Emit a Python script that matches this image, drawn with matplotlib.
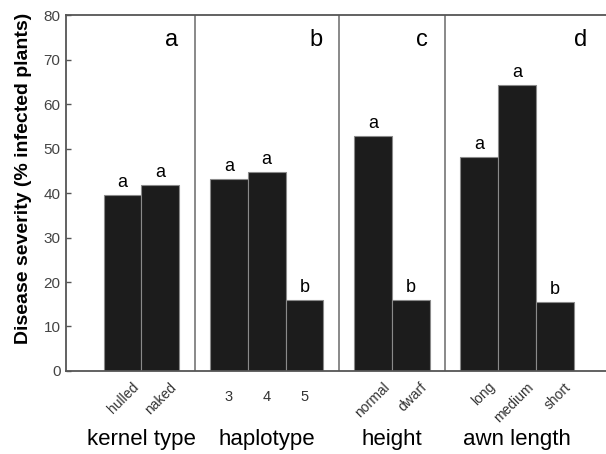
import matplotlib.pyplot as plt
from matplotlib.transforms import ScaledTranslation
import numpy as np

plt.rcParams['font.family'] = ['Liberation Sans', 'DejaVu Sans']

groups = ["kernel type", "haplotype", "height", "awn length"]
panel_letters = ["a", "b", "c", "d"]
categories = [["hulled", "naked"], ["3", "4", "5"], ["normal", "dwarf"],
              ["long", "medium", "short"]]
severity = [[39.7, 41.9], [43.3, 44.7, 15.9], [52.9, 16.0], [48.1, 64.4, 15.5]]
letters = [["a", "a"], ["a", "a", "b"], ["a", "b"], ["a", "a", "b"]]

fig = plt.figure(figsize=(6.06, 4.54), dpi=100)
ax = fig.add_axes([0.109, 0.183, 0.891, 0.783])
trans = ax.get_xaxis_transform()

gap = 0.82
x0 = 1.5
centers = []
for gi, vals in enumerate(severity):
    xs = x0 + np.arange(len(vals))
    ax.bar(xs, vals, width=1.0, color="#1c1c1c", edgecolor="#8a8a8a", linewidth=0.8)
    for x, v, l in zip(xs, vals, letters[gi]):
        ax.text(x, v + 0.9, l, ha="center", va="bottom", fontsize=13)
    # category labels under each bar
    for x, c in zip(xs, categories[gi]):
        if c.isdigit():
            off = ScaledTranslation(0, -19 / 72, fig.dpi_scale_trans)
            ax.text(x, 0, c, transform=trans + off, ha="center", va="center",
                    fontsize=10.5, color="#333333")
        else:
            off = ScaledTranslation(6.5 / 72, -6.5 / 72, fig.dpi_scale_trans)
            ax.text(x, 0, c, transform=trans + off, ha="right", va="top",
                    rotation=45, rotation_mode="anchor", fontsize=10, color="#333333")
    centers.append(xs.mean())
    end = xs[-1] + 0.5
    if gi < len(severity) - 1:
        ax.axvline(end + gap / 2, color="#808080", linewidth=1.3)
        lx = end + gap / 2 - 0.6
    else:
        lx = end + 0.18
    ax.text(lx, 74.5, panel_letters[gi], ha="center", va="center", fontsize=17)
    x0 = end + gap + 0.5

for c, g in zip(centers, groups):
    ax.text(c, -0.194, g, transform=trans, ha="center", va="center", fontsize=16)

ax.set_xticks([])
ax.set_xlim(0, 14.32)
ax.set_ylim(0, 80)
ax.set_yticks(np.arange(0, 81, 10))
ax.tick_params(axis="y", direction="in", length=3.5, width=1, color="#555555",
               labelsize=11, labelcolor="#444444", pad=4)
ax.set_ylabel("Disease severity (% infected plants)", fontsize=14, fontweight="bold")
ax.yaxis.set_label_coords(-0.063, 0.542)

for s in ["left", "top", "bottom"]:
    ax.spines[s].set_color("#555555")
    ax.spines[s].set_linewidth(1.3)
ax.spines["right"].set_visible(False)

fig.savefig("out.png", dpi=100)
